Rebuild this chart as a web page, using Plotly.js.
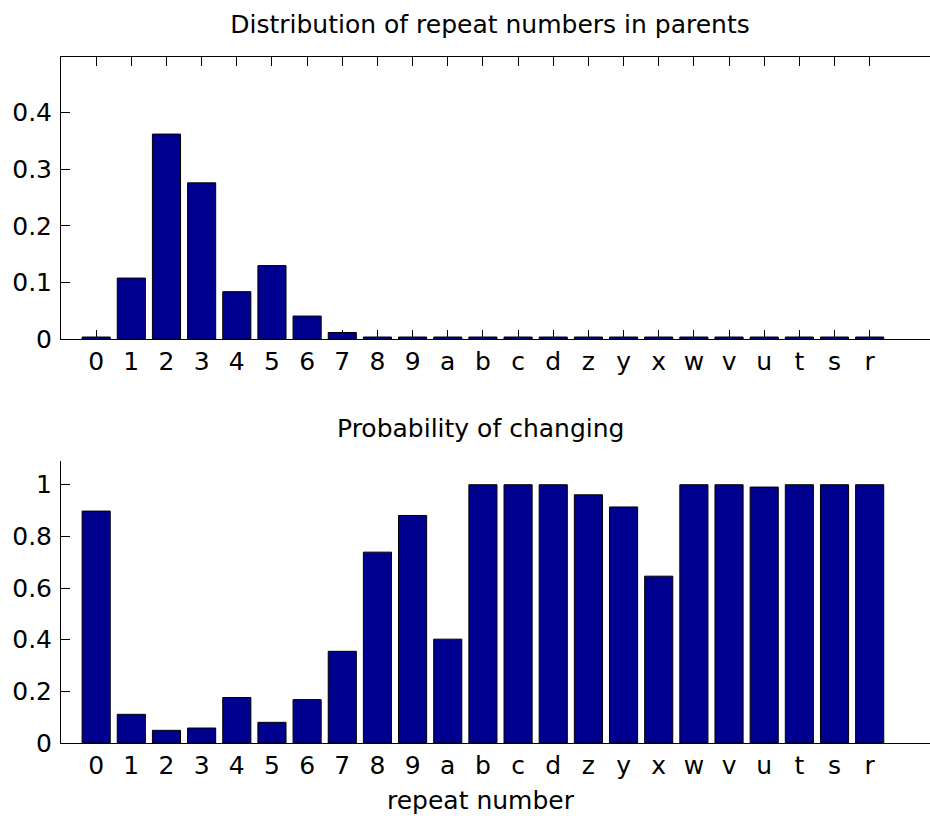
<!DOCTYPE html>
<html>
<head>
<meta charset="utf-8">
<script src="https://cdn.plot.ly/plotly-3.0.1.min.js"></script>
<style>
  html, body { margin: 0; padding: 0; overflow: hidden; background: #fff; }
  #chart { width: 945px; height: 816px; }
</style>
</head>
<body>
<div id="chart"></div>
<script>
// Repeat-number categories, in display order
const categories = ['0','1','2','3','4','5','6','7','8','9','a','b','c','d','z','y','x','w','v','u','t','s','r'];

// Fraction of parents carrying each repeat number
const parentFraction = [0.004, 0.108, 0.362, 0.276, 0.084, 0.130, 0.041, 0.012, 0.004, 0.004,
                        0.004, 0.004, 0.004, 0.004, 0.004, 0.004, 0.004, 0.004, 0.004, 0.004,
                        0.004, 0.004, 0.004];

// Probability that a repeat number changes
const changeProbability = [0.898, 0.111, 0.049, 0.058, 0.176, 0.080, 0.168, 0.355, 0.739, 0.881,
                           0.402, 1.0, 1.0, 1.0, 0.961, 0.914, 0.646, 1.0, 1.0, 0.991,
                           1.0, 1.0, 1.0];

const topTickVals = [0, 0.1, 0.2, 0.3, 0.4];
const topTickText = ['0', '0.1', '0.2', '0.3', '0.4'];
const bottomTickVals = [0, 0.2, 0.4, 0.6, 0.8, 1];
const bottomTickText = ['0', '0.2', '0.4', '0.6', '0.8', '1'];

const titleTop = 'Distribution of repeat numbers in parents';
const titleBottom = 'Probability of changing';
const xLabel = 'repeat number';

const barColor = '#00008f';
const fontFamily = '"DejaVu Sans", Verdana, sans-serif';
const textFont = { family: fontFamily, size: 25, color: '#000' };

const bar = (y, xa, ya) => ({
  type: 'bar', x: categories, y: y, xaxis: xa, yaxis: ya,
  width: 0.8,
  marker: { color: barColor, line: { color: '#000', width: 1 } },
  hoverinfo: 'x+y', showlegend: false
});

const axisCommon = {
  showline: true, linecolor: '#000', linewidth: 1,
  ticks: 'inside', ticklen: 9, tickwidth: 1, tickcolor: '#000',
  showgrid: false, zeroline: false, layer: 'below traces',
  tickfont: textFont,
  fixedrange: true
};

const layout = {
  width: 945, height: 816,
  margin: { l: 61, r: 5, t: 57, b: 73 },
  paper_bgcolor: '#fff', plot_bgcolor: '#fff',
  font: textFont,
  bargap: 0.2,
  title: {
    text: titleTop, font: textFont,
    xref: 'container', x: 490 / 945, xanchor: 'center',
    yref: 'container', y: 1 - 33 / 816, yanchor: 'bottom'
  },
  xaxis: Object.assign({}, axisCommon, {
    type: 'category', range: [-1, 24], anchor: 'y', mirror: 'allticks'
  }),
  yaxis: Object.assign({}, axisCommon, {
    domain: [0.5885, 1], range: [0, 0.498], anchor: 'x', mirror: 'allticks',
    tickvals: topTickVals, ticktext: topTickText, ticklabelstandoff: 3
  }),
  xaxis2: Object.assign({}, axisCommon, {
    type: 'category', range: [-1, 24], anchor: 'y2'
  }),
  yaxis2: Object.assign({}, axisCommon, {
    domain: [0, 0.4115], range: [0, 1.093], anchor: 'x2',
    tickvals: bottomTickVals, ticktext: bottomTickText, ticklabelstandoff: 3
  }),
  annotations: [
    { text: titleBottom, xref: 'paper', yref: 'paper', x: (480 - 61) / 879, y: 0.4115 + 16 / 686,
      xanchor: 'center', yanchor: 'bottom', showarrow: false, font: textFont },
    { text: xLabel, xref: 'paper', yref: 'paper', x: (481 - 61) / 879, y: -41 / 686,
      xanchor: 'center', yanchor: 'top', showarrow: false, font: textFont }
  ]
};

Plotly.newPlot('chart', [bar(parentFraction, 'x', 'y'), bar(changeProbability, 'x2', 'y2')], layout,
  { displayModeBar: false, staticPlot: true });
</script>
</body>
</html>
